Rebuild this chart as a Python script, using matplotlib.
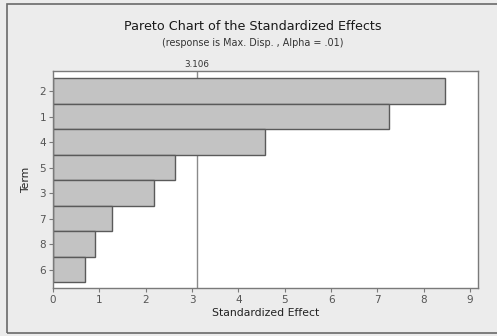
import matplotlib
matplotlib.use('Agg')
import matplotlib.pyplot as plt
from matplotlib.patches import Rectangle

# Standardized effects, sorted largest first
terms = ['2', '1', '4', '5', '3', '7', '8', '6']
effects = [8.45, 7.26, 4.58, 2.63, 2.18, 1.28, 0.905, 0.68]
critical = 3.106

fig = plt.figure(figsize=(4.97, 3.36), dpi=100, facecolor='#ececec')
# outer frame of the graph window
fig.patches.append(Rectangle((7 / 497, 3 / 336), 1.2, 1 - 7 / 336, transform=fig.transFigure,
                             fill=False, edgecolor='#6a6a6a', linewidth=1.2))

ax = fig.add_axes([53 / 497, 48 / 336, 425 / 497, 217 / 336])
ax.set_facecolor('white')

pos = list(range(len(terms)))
ax.axvline(critical, color='#8a8a8a', linewidth=1.0, zorder=1)
ax.barh(pos, effects, height=1.0, color='#c3c3c3', edgecolor='#5a5a5a', linewidth=1.0, zorder=2)

ax.set_xlim(0, 9.17)
ax.set_ylim(7.72, -0.79)
ax.set_yticks(pos)
ax.set_yticklabels(terms)
ax.set_xticks(range(10))

for s in ax.spines.values():
    s.set_color('#7a7a7a')
    s.set_linewidth(1.0)
    s.set_zorder(3)
ax.tick_params(length=3, width=0.8, color='#7a7a7a', labelcolor='#555555', labelsize=7.5, pad=2)

ax.set_xlabel('Standardized Effect', fontsize=7.8, color='#222222', labelpad=2)
ax.set_ylabel('Term', fontsize=7.8, color='#222222', labelpad=6)

ax.text(critical, 1.01, '3.106', transform=ax.get_xaxis_transform(), ha='center', va='bottom',
        fontsize=6.3, color='#333333')

fig.text(253 / 497, 1 - 27 / 336, 'Pareto Chart of the Standardized Effects', ha='center', va='center',
         fontsize=9.2, color='#1a1a1a')
fig.text(253 / 497, 1 - 43 / 336, '(response is Max. Disp. , Alpha = .01)', ha='center', va='center',
         fontsize=6.9, color='#333333')

fig.savefig('out.png', dpi=100, facecolor=fig.get_facecolor())
